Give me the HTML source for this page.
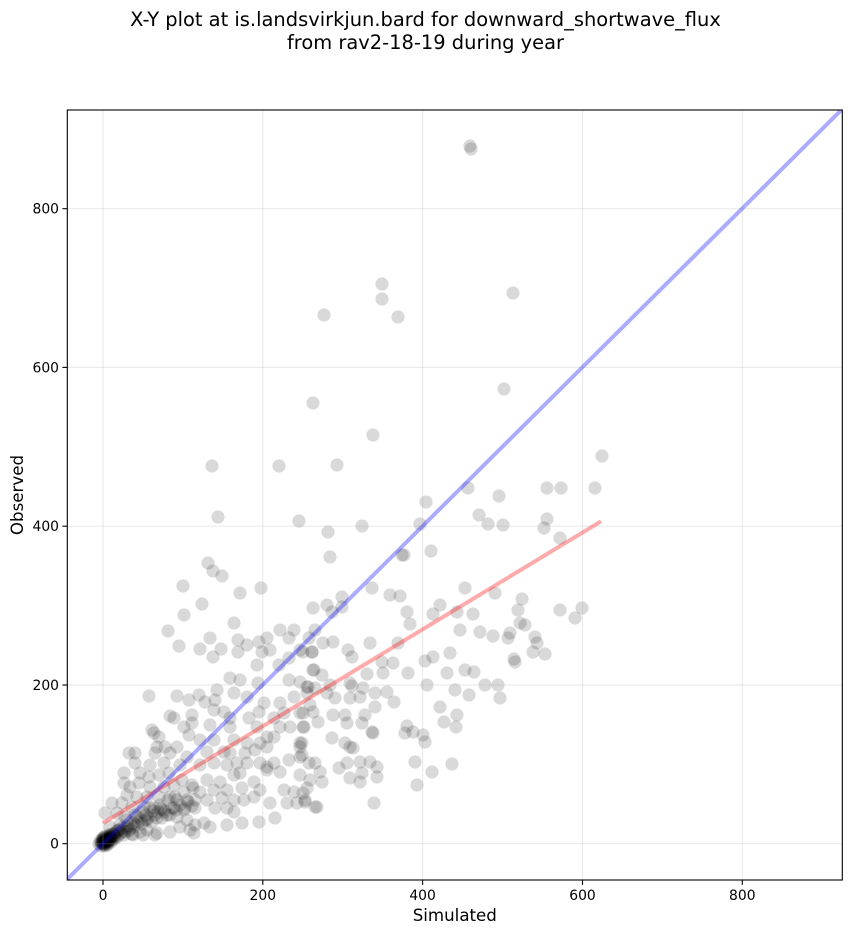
<!DOCTYPE html>
<html>
<head>
<meta charset="utf-8">
<style>
html,body{margin:0;padding:0;background:#fff;}
svg{display:block;}
.pt circle{fill:#000;fill-opacity:0.15;}
text{font-family:"DejaVu Sans","Liberation Sans",sans-serif;fill:#000;}
</style>
</head>
<body>
<svg width="851" height="934" viewBox="0 0 851 934" xmlns="http://www.w3.org/2000/svg">
<defs>
<clipPath id="ax"><rect x="67.3" y="110" width="775" height="770"/></clipPath>
</defs>
<rect x="0" y="0" width="851" height="934" fill="#fff"/>
<text x="425.5" y="26" font-size="19.44" text-anchor="middle">X-Y plot at is.landsvirkjun.bard for downward_shortwave_flux</text>
<text x="425.5" y="49" font-size="19.44" text-anchor="middle">from rav2-18-19 during year</text>

<g clip-path="url(#ax)">
<g class="pt">
<circle cx="202" cy="604" r="6.6"/><circle cx="184" cy="615" r="6.6"/><circle cx="234" cy="623" r="6.6"/><circle cx="168" cy="631" r="6.6"/><circle cx="210" cy="638" r="6.6"/><circle cx="238" cy="640" r="6.6"/><circle cx="247" cy="645" r="6.6"/><circle cx="259" cy="642" r="6.6"/><circle cx="267" cy="638" r="6.6"/><circle cx="280" cy="630" r="6.6"/><circle cx="294" cy="630" r="6.6"/><circle cx="289" cy="638" r="6.6"/><circle cx="309" cy="638" r="6.6"/><circle cx="179" cy="646" r="6.6"/><circle cx="200" cy="649" r="6.6"/><circle cx="221" cy="649" r="6.6"/><circle cx="213" cy="657" r="6.6"/><circle cx="238" cy="652" r="6.6"/><circle cx="262" cy="652" r="6.6"/><circle cx="270" cy="650" r="6.6"/><circle cx="300" cy="650" r="6.6"/><circle cx="312" cy="652" r="6.6"/><circle cx="257" cy="665" r="6.6"/><circle cx="279" cy="665" r="6.6"/><circle cx="289" cy="658" r="6.6"/><circle cx="314" cy="670" r="6.6"/><circle cx="230" cy="678" r="6.6"/><circle cx="240" cy="680" r="6.6"/><circle cx="258" cy="683" r="6.6"/><circle cx="289" cy="680" r="6.6"/><circle cx="300" cy="682" r="6.6"/><circle cx="307" cy="687" r="6.6"/><circle cx="149" cy="696" r="6.6"/><circle cx="177" cy="696" r="6.6"/><circle cx="189" cy="700" r="6.6"/><circle cx="199" cy="695" r="6.6"/><circle cx="205" cy="702" r="6.6"/><circle cx="215" cy="700" r="6.6"/><circle cx="217" cy="690" r="6.6"/><circle cx="234" cy="693" r="6.6"/><circle cx="247" cy="697" r="6.6"/><circle cx="264" cy="703" r="6.6"/><circle cx="280" cy="703" r="6.6"/><circle cx="294" cy="697" r="6.6"/><circle cx="307" cy="693" r="6.6"/><circle cx="170" cy="716" r="6.6"/><circle cx="174" cy="718" r="6.6"/><circle cx="192" cy="715" r="6.6"/><circle cx="214" cy="710" r="6.6"/><circle cx="224" cy="712" r="6.6"/><circle cx="230" cy="718" r="6.6"/><circle cx="249" cy="718" r="6.6"/><circle cx="259" cy="712" r="6.6"/><circle cx="274" cy="718" r="6.6"/><circle cx="284" cy="713" r="6.6"/><circle cx="300" cy="713" r="6.6"/><circle cx="313" cy="712" r="6.6"/><circle cx="184" cy="727" r="6.6"/><circle cx="192" cy="723" r="6.6"/><circle cx="210" cy="725" r="6.6"/><circle cx="230" cy="727" r="6.6"/><circle cx="257" cy="727" r="6.6"/><circle cx="267" cy="737" r="6.6"/><circle cx="280" cy="727" r="6.6"/><circle cx="290" cy="727" r="6.6"/><circle cx="304" cy="727" r="6.6"/><circle cx="152" cy="730" r="6.6"/><circle cx="154" cy="733" r="6.6"/><circle cx="159" cy="737" r="6.6"/><circle cx="189" cy="735" r="6.6"/><circle cx="200" cy="740" r="6.6"/><circle cx="214" cy="740" r="6.6"/><circle cx="234" cy="740" r="6.6"/><circle cx="247" cy="743" r="6.6"/><circle cx="260" cy="743" r="6.6"/><circle cx="274" cy="737" r="6.6"/><circle cx="300" cy="743" r="6.6"/><circle cx="157" cy="747" r="6.6"/><circle cx="165" cy="747" r="6.6"/><circle cx="177" cy="747" r="6.6"/><circle cx="129" cy="753" r="6.6"/><circle cx="135" cy="753" r="6.6"/><circle cx="155" cy="753" r="6.6"/><circle cx="170" cy="753" r="6.6"/><circle cx="187" cy="757" r="6.6"/><circle cx="207" cy="752" r="6.6"/><circle cx="224" cy="752" r="6.6"/><circle cx="230" cy="753" r="6.6"/><circle cx="245" cy="753" r="6.6"/><circle cx="255" cy="750" r="6.6"/><circle cx="267" cy="747" r="6.6"/><circle cx="300" cy="747" r="6.6"/><circle cx="135" cy="763" r="6.6"/><circle cx="150" cy="765" r="6.6"/><circle cx="164" cy="763" r="6.6"/><circle cx="180" cy="765" r="6.6"/><circle cx="200" cy="765" r="6.6"/><circle cx="214" cy="763" r="6.6"/><circle cx="227" cy="765" r="6.6"/><circle cx="237" cy="763" r="6.6"/><circle cx="247" cy="763" r="6.6"/><circle cx="260" cy="763" r="6.6"/><circle cx="267" cy="767" r="6.6"/><circle cx="274" cy="763" r="6.6"/><circle cx="289" cy="760" r="6.6"/><circle cx="300" cy="757" r="6.6"/><circle cx="309" cy="763" r="6.6"/><circle cx="124" cy="773" r="6.6"/><circle cx="140" cy="773" r="6.6"/><circle cx="149" cy="777" r="6.6"/><circle cx="159" cy="775" r="6.6"/><circle cx="169" cy="773" r="6.6"/><circle cx="182" cy="780" r="6.6"/><circle cx="192" cy="785" r="6.6"/><circle cx="193" cy="788" r="6.6"/><circle cx="207" cy="780" r="6.6"/><circle cx="220" cy="782" r="6.6"/><circle cx="234" cy="775" r="6.6"/><circle cx="240" cy="773" r="6.6"/><circle cx="254" cy="782" r="6.6"/><circle cx="267" cy="770" r="6.6"/><circle cx="280" cy="772" r="6.6"/><circle cx="300" cy="775" r="6.6"/><circle cx="310" cy="780" r="6.6"/><circle cx="124" cy="783" r="6.6"/><circle cx="130" cy="787" r="6.6"/><circle cx="139" cy="783" r="6.6"/><circle cx="150" cy="787" r="6.6"/><circle cx="164" cy="787" r="6.6"/><circle cx="174" cy="785" r="6.6"/><circle cx="184" cy="792" r="6.6"/><circle cx="200" cy="792" r="6.6"/><circle cx="214" cy="790" r="6.6"/><circle cx="227" cy="790" r="6.6"/><circle cx="242" cy="788" r="6.6"/><circle cx="260" cy="790" r="6.6"/><circle cx="284" cy="790" r="6.6"/><circle cx="294" cy="792" r="6.6"/><circle cx="307" cy="788" r="6.6"/><circle cx="127" cy="795" r="6.6"/><circle cx="137" cy="797" r="6.6"/><circle cx="147" cy="797" r="6.6"/><circle cx="159" cy="797" r="6.6"/><circle cx="170" cy="797" r="6.6"/><circle cx="177" cy="800" r="6.6"/><circle cx="187" cy="800" r="6.6"/><circle cx="207" cy="800" r="6.6"/><circle cx="222" cy="798" r="6.6"/><circle cx="234" cy="800" r="6.6"/><circle cx="244" cy="800" r="6.6"/><circle cx="254" cy="797" r="6.6"/><circle cx="270" cy="803" r="6.6"/><circle cx="287" cy="803" r="6.6"/><circle cx="297" cy="803" r="6.6"/><circle cx="305" cy="800" r="6.6"/><circle cx="315" cy="807" r="6.6"/><circle cx="112" cy="803" r="6.6"/><circle cx="122" cy="803" r="6.6"/><circle cx="132" cy="807" r="6.6"/><circle cx="144" cy="807" r="6.6"/><circle cx="154" cy="808" r="6.6"/><circle cx="164" cy="810" r="6.6"/><circle cx="174" cy="808" r="6.6"/><circle cx="184" cy="810" r="6.6"/><circle cx="195" cy="808" r="6.6"/><circle cx="215" cy="808" r="6.6"/><circle cx="227" cy="808" r="6.6"/><circle cx="234" cy="812" r="6.6"/><circle cx="105" cy="813" r="6.6"/><circle cx="117" cy="813" r="6.6"/><circle cx="125" cy="817" r="6.6"/><circle cx="137" cy="817" r="6.6"/><circle cx="147" cy="820" r="6.6"/><circle cx="157" cy="818" r="6.6"/><circle cx="167" cy="815" r="6.6"/><circle cx="177" cy="817" r="6.6"/><circle cx="187" cy="820" r="6.6"/><circle cx="195" cy="825" r="6.6"/><circle cx="204" cy="823" r="6.6"/><circle cx="210" cy="827" r="6.6"/><circle cx="227" cy="825" r="6.6"/><circle cx="242" cy="823" r="6.6"/><circle cx="259" cy="822" r="6.6"/><circle cx="275" cy="818" r="6.6"/><circle cx="110" cy="827" r="6.6"/><circle cx="120" cy="830" r="6.6"/><circle cx="134" cy="827" r="6.6"/><circle cx="147" cy="830" r="6.6"/><circle cx="157" cy="833" r="6.6"/><circle cx="170" cy="832" r="6.6"/><circle cx="180" cy="827" r="6.6"/><circle cx="190" cy="830" r="6.6"/><circle cx="194" cy="833" r="6.6"/><circle cx="155" cy="835" r="6.6"/><circle cx="143" cy="835" r="6.6"/><circle cx="133" cy="835" r="6.6"/>
<circle cx="313" cy="608" r="6.6"/><circle cx="327" cy="605" r="6.6"/><circle cx="332" cy="612" r="6.6"/><circle cx="342" cy="607" r="6.6"/><circle cx="407" cy="612" r="6.6"/><circle cx="410" cy="624" r="6.6"/><circle cx="433" cy="614" r="6.6"/><circle cx="440" cy="605" r="6.6"/><circle cx="457" cy="612" r="6.6"/><circle cx="473" cy="614" r="6.6"/><circle cx="460" cy="630" r="6.6"/><circle cx="480" cy="632" r="6.6"/><circle cx="493" cy="636" r="6.6"/><circle cx="510" cy="633" r="6.6"/><circle cx="508" cy="638" r="6.6"/><circle cx="518" cy="610" r="6.6"/><circle cx="520" cy="623" r="6.6"/><circle cx="525" cy="625" r="6.6"/><circle cx="535" cy="637" r="6.6"/><circle cx="537" cy="643" r="6.6"/><circle cx="533" cy="652" r="6.6"/><circle cx="545" cy="654" r="6.6"/><circle cx="515" cy="662" r="6.6"/><circle cx="560" cy="610" r="6.6"/><circle cx="575" cy="618" r="6.6"/><circle cx="582" cy="608" r="6.6"/><circle cx="315" cy="630" r="6.6"/><circle cx="323" cy="643" r="6.6"/><circle cx="333" cy="642" r="6.6"/><circle cx="303" cy="652" r="6.6"/><circle cx="312" cy="652" r="6.6"/><circle cx="348" cy="650" r="6.6"/><circle cx="352" cy="657" r="6.6"/><circle cx="370" cy="643" r="6.6"/><circle cx="398" cy="643" r="6.6"/><circle cx="382" cy="662" r="6.6"/><circle cx="393" cy="663" r="6.6"/><circle cx="383" cy="673" r="6.6"/><circle cx="367" cy="674" r="6.6"/><circle cx="408" cy="673" r="6.6"/><circle cx="425" cy="661" r="6.6"/><circle cx="433" cy="657" r="6.6"/><circle cx="450" cy="653" r="6.6"/><circle cx="447" cy="673" r="6.6"/><circle cx="465" cy="670" r="6.6"/><circle cx="474" cy="672" r="6.6"/><circle cx="313" cy="670" r="6.6"/><circle cx="322" cy="675" r="6.6"/><circle cx="308" cy="687" r="6.6"/><circle cx="315" cy="688" r="6.6"/><circle cx="330" cy="685" r="6.6"/><circle cx="327" cy="693" r="6.6"/><circle cx="335" cy="698" r="6.6"/><circle cx="350" cy="683" r="6.6"/><circle cx="352" cy="686" r="6.6"/><circle cx="363" cy="688" r="6.6"/><circle cx="360" cy="697" r="6.6"/><circle cx="350" cy="698" r="6.6"/><circle cx="375" cy="693" r="6.6"/><circle cx="387" cy="692" r="6.6"/><circle cx="394" cy="702" r="6.6"/><circle cx="427" cy="685" r="6.6"/><circle cx="455" cy="690" r="6.6"/><circle cx="469" cy="695" r="6.6"/><circle cx="485" cy="685" r="6.6"/><circle cx="498" cy="685" r="6.6"/><circle cx="500" cy="698" r="6.6"/><circle cx="440" cy="707" r="6.6"/><circle cx="303" cy="713" r="6.6"/><circle cx="310" cy="705" r="6.6"/><circle cx="333" cy="715" r="6.6"/><circle cx="345" cy="715" r="6.6"/><circle cx="347" cy="723" r="6.6"/><circle cx="362" cy="723" r="6.6"/><circle cx="365" cy="715" r="6.6"/><circle cx="375" cy="707" r="6.6"/><circle cx="372" cy="732" r="6.6"/><circle cx="373" cy="733" r="6.6"/><circle cx="318" cy="722" r="6.6"/><circle cx="303" cy="727" r="6.6"/><circle cx="407" cy="726" r="6.6"/><circle cx="405" cy="733" r="6.6"/><circle cx="413" cy="732" r="6.6"/><circle cx="423" cy="735" r="6.6"/><circle cx="425" cy="742" r="6.6"/><circle cx="444" cy="722" r="6.6"/><circle cx="457" cy="715" r="6.6"/><circle cx="456" cy="727" r="6.6"/><circle cx="332" cy="738" r="6.6"/><circle cx="345" cy="743" r="6.6"/><circle cx="350" cy="747" r="6.6"/><circle cx="353" cy="748" r="6.6"/><circle cx="302" cy="743" r="6.6"/><circle cx="302" cy="755" r="6.6"/><circle cx="315" cy="763" r="6.6"/><circle cx="320" cy="772" r="6.6"/><circle cx="322" cy="782" r="6.6"/><circle cx="339" cy="768" r="6.6"/><circle cx="347" cy="763" r="6.6"/><circle cx="350" cy="778" r="6.6"/><circle cx="360" cy="762" r="6.6"/><circle cx="362" cy="773" r="6.6"/><circle cx="360" cy="782" r="6.6"/><circle cx="370" cy="762" r="6.6"/><circle cx="377" cy="767" r="6.6"/><circle cx="377" cy="777" r="6.6"/><circle cx="415" cy="762" r="6.6"/><circle cx="417" cy="785" r="6.6"/><circle cx="432" cy="772" r="6.6"/><circle cx="452" cy="764" r="6.6"/><circle cx="303" cy="793" r="6.6"/><circle cx="305" cy="802" r="6.6"/><circle cx="317" cy="807" r="6.6"/><circle cx="374" cy="803" r="6.6"/>
<circle cx="313" cy="403" r="6.6"/><circle cx="373" cy="435" r="6.6"/><circle cx="212" cy="466" r="6.6"/><circle cx="279" cy="466" r="6.6"/><circle cx="337" cy="465" r="6.6"/><circle cx="218" cy="517" r="6.6"/><circle cx="299" cy="521" r="6.6"/><circle cx="328" cy="532" r="6.6"/><circle cx="362" cy="526" r="6.6"/><circle cx="330" cy="557" r="6.6"/><circle cx="208" cy="563" r="6.6"/><circle cx="213" cy="571" r="6.6"/><circle cx="222" cy="576" r="6.6"/><circle cx="183" cy="586" r="6.6"/><circle cx="240" cy="593" r="6.6"/><circle cx="261" cy="588" r="6.6"/><circle cx="342" cy="597" r="6.6"/><circle cx="372" cy="588" r="6.6"/><circle cx="402" cy="555" r="6.6"/>
<circle cx="602" cy="456" r="6.6"/><circle cx="595" cy="488" r="6.6"/><circle cx="547" cy="488" r="6.6"/><circle cx="561" cy="488" r="6.6"/><circle cx="468" cy="488" r="6.6"/><circle cx="499" cy="496" r="6.6"/><circle cx="426" cy="502" r="6.6"/><circle cx="479" cy="515" r="6.6"/><circle cx="488" cy="524" r="6.6"/><circle cx="503" cy="525" r="6.6"/><circle cx="420" cy="524" r="6.6"/><circle cx="547" cy="519" r="6.6"/><circle cx="544" cy="528" r="6.6"/><circle cx="560" cy="538" r="6.6"/><circle cx="404" cy="555" r="6.6"/><circle cx="431" cy="551" r="6.6"/><circle cx="465" cy="588" r="6.6"/><circle cx="495" cy="593" r="6.6"/><circle cx="390" cy="595" r="6.6"/><circle cx="400" cy="596" r="6.6"/><circle cx="522" cy="599" r="6.6"/><circle cx="514" cy="659" r="6.6"/>
<circle cx="470" cy="146" r="6.6"/><circle cx="471" cy="149" r="6.6"/><circle cx="382" cy="284" r="6.6"/><circle cx="382" cy="299" r="6.6"/><circle cx="398" cy="317" r="6.6"/><circle cx="324" cy="315" r="6.6"/><circle cx="513" cy="293" r="6.6"/><circle cx="504" cy="389" r="6.6"/>
<circle cx="103" cy="843" r="6.6"/><circle cx="104" cy="842" r="6.6"/><circle cx="105" cy="841" r="6.6"/><circle cx="103" cy="841" r="6.6"/><circle cx="106" cy="843" r="6.6"/><circle cx="107" cy="840" r="6.6"/><circle cx="108" cy="839" r="6.6"/><circle cx="104" cy="839" r="6.6"/><circle cx="106" cy="838" r="6.6"/><circle cx="109" cy="841" r="6.6"/><circle cx="110" cy="838" r="6.6"/><circle cx="111" cy="837" r="6.6"/><circle cx="105" cy="844" r="6.6"/><circle cx="102" cy="842" r="6.6"/><circle cx="107" cy="842" r="6.6"/><circle cx="108" cy="837" r="6.6"/><circle cx="110" cy="840" r="6.6"/><circle cx="112" cy="836" r="6.6"/><circle cx="104" cy="837" r="6.6"/><circle cx="106" cy="836" r="6.6"/><circle cx="109" cy="835" r="6.6"/><circle cx="113" cy="838" r="6.6"/><circle cx="103" cy="838" r="6.6"/><circle cx="105" cy="840" r="6.6"/><circle cx="107" cy="839" r="6.6"/><circle cx="111" cy="839" r="6.6"/><circle cx="104" cy="843" r="6.6"/><circle cx="106" cy="841" r="6.6"/><circle cx="108" cy="842" r="6.6"/><circle cx="102" cy="840" r="6.6"/><circle cx="101" cy="843" r="6.6"/><circle cx="100" cy="841" r="6.6"/><circle cx="105" cy="846" r="6.6"/><circle cx="108" cy="844" r="6.6"/>
<circle cx="103" cy="844" r="6.6"/><circle cx="104" cy="844" r="6.6"/><circle cx="102" cy="843" r="6.6"/><circle cx="105" cy="842" r="6.6"/><circle cx="106" cy="840" r="6.6"/><circle cx="108" cy="840" r="6.6"/><circle cx="110" cy="836" r="6.6"/><circle cx="112" cy="834" r="6.6"/><circle cx="114" cy="835" r="6.6"/><circle cx="99" cy="844" r="6.6"/><circle cx="101" cy="846" r="6.6"/><circle cx="107" cy="845" r="6.6"/><circle cx="111" cy="842" r="6.6"/><circle cx="113" cy="840" r="6.6"/><circle cx="115" cy="836" r="6.6"/><circle cx="103" cy="839" r="6.6"/><circle cx="109" cy="838" r="6.6"/><circle cx="104" cy="845" r="6.6"/>
<circle cx="115" cy="833" r="6.6"/><circle cx="118" cy="830" r="6.6"/><circle cx="122" cy="828" r="6.6"/><circle cx="125" cy="832" r="6.6"/><circle cx="128" cy="826" r="6.6"/><circle cx="130" cy="829" r="6.6"/><circle cx="135" cy="825" r="6.6"/><circle cx="138" cy="822" r="6.6"/><circle cx="142" cy="824" r="6.6"/><circle cx="145" cy="820" r="6.6"/><circle cx="148" cy="818" r="6.6"/><circle cx="152" cy="822" r="6.6"/><circle cx="155" cy="815" r="6.6"/><circle cx="158" cy="812" r="6.6"/><circle cx="162" cy="818" r="6.6"/><circle cx="165" cy="812" r="6.6"/><circle cx="170" cy="815" r="6.6"/><circle cx="172" cy="808" r="6.6"/><circle cx="176" cy="810" r="6.6"/><circle cx="180" cy="805" r="6.6"/><circle cx="185" cy="808" r="6.6"/><circle cx="188" cy="802" r="6.6"/><circle cx="192" cy="806" r="6.6"/><circle cx="195" cy="800" r="6.6"/><circle cx="118" cy="836" r="6.6"/><circle cx="124" cy="835" r="6.6"/><circle cx="132" cy="834" r="6.6"/><circle cx="140" cy="832" r="6.6"/><circle cx="113" cy="834" r="6.6"/><circle cx="120" cy="825" r="6.6"/><circle cx="127" cy="820" r="6.6"/><circle cx="135" cy="815" r="6.6"/><circle cx="143" cy="812" r="6.6"/><circle cx="150" cy="808" r="6.6"/><circle cx="160" cy="805" r="6.6"/><circle cx="168" cy="800" r="6.6"/><circle cx="175" cy="797" r="6.6"/><circle cx="116" cy="838" r="6.6"/><circle cx="121" cy="833" r="6.6"/><circle cx="129" cy="831" r="6.6"/>
<circle cx="117" cy="831" r="6.6"/><circle cx="123" cy="831" r="6.6"/><circle cx="127" cy="828" r="6.6"/><circle cx="133" cy="823" r="6.6"/><circle cx="140" cy="819" r="6.6"/><circle cx="146" cy="815" r="6.6"/><circle cx="153" cy="811" r="6.6"/><circle cx="161" cy="809" r="6.6"/>
</g>
</g>

<g stroke="#b0b0b0" stroke-opacity="0.25" stroke-width="1.2">
<line x1="103" y1="110" x2="103" y2="880"/>
<line x1="262.8" y1="110" x2="262.8" y2="880"/>
<line x1="422.6" y1="110" x2="422.6" y2="880"/>
<line x1="582.5" y1="110" x2="582.5" y2="880"/>
<line x1="742.3" y1="110" x2="742.3" y2="880"/>
<line x1="67.3" y1="843.7" x2="842.3" y2="843.7"/>
<line x1="67.3" y1="685" x2="842.3" y2="685"/>
<line x1="67.3" y1="526.2" x2="842.3" y2="526.2"/>
<line x1="67.3" y1="367.4" x2="842.3" y2="367.4"/>
<line x1="67.3" y1="208.7" x2="842.3" y2="208.7"/>
</g>

<g clip-path="url(#ax)">
<line x1="103" y1="823" x2="601" y2="521.3" stroke="#ff0000" stroke-opacity="0.33" stroke-width="4"/>
<line x1="66.2" y1="880.2" x2="843.8" y2="107.5" stroke="#0000ff" stroke-opacity="0.33" stroke-width="4"/>
</g>

<rect x="67.3" y="110" width="775" height="770" fill="none" stroke="#000" stroke-width="1.1"/>

<g stroke="#000" stroke-width="1.1">
<line x1="103" y1="880" x2="103" y2="884.9"/>
<line x1="262.8" y1="880" x2="262.8" y2="884.9"/>
<line x1="422.6" y1="880" x2="422.6" y2="884.9"/>
<line x1="582.5" y1="880" x2="582.5" y2="884.9"/>
<line x1="742.3" y1="880" x2="742.3" y2="884.9"/>
<line x1="62.4" y1="843.7" x2="67.3" y2="843.7"/>
<line x1="62.4" y1="685" x2="67.3" y2="685"/>
<line x1="62.4" y1="526.2" x2="67.3" y2="526.2"/>
<line x1="62.4" y1="367.4" x2="67.3" y2="367.4"/>
<line x1="62.4" y1="208.7" x2="67.3" y2="208.7"/>
</g>

<g font-size="13.89" text-anchor="middle">
<text x="103" y="900">0</text>
<text x="262.8" y="900">200</text>
<text x="422.6" y="900">400</text>
<text x="582.5" y="900">600</text>
<text x="742.3" y="900">800</text>
</g>
<g font-size="13.89" text-anchor="end">
<text x="59" y="848.7">0</text>
<text x="59" y="690">200</text>
<text x="59" y="531.2">400</text>
<text x="59" y="372.4">600</text>
<text x="59" y="213.7">800</text>
</g>

<text x="454.8" y="921" font-size="16.67" text-anchor="middle">Simulated</text>
<text transform="translate(23,495) rotate(-90)" font-size="16.67" text-anchor="middle">Observed</text>
</svg>
</body>
</html>
